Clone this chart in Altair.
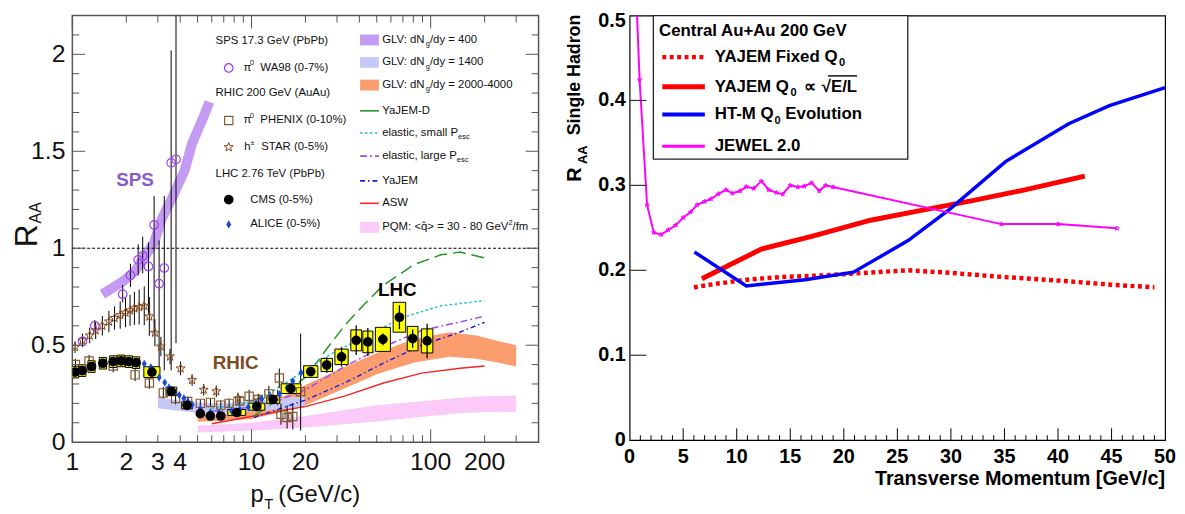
import altair as alt
import pandas as pd

FONT = "Liberation Sans"

# ======================= LEFT PANEL DATA (log pT) =======================
glv400_pt = [1.47, 1.92, 2.23, 2.58, 2.85, 3.15, 3.65, 4.23, 4.66, 5.41, 5.82]
glv400_raa = [0.763, 0.83, 0.88, 0.966, 1.025, 1.15, 1.27, 1.40, 1.54, 1.68, 1.754]

glv1400_pt = [3.0, 4.0, 5.0, 6.0, 8.0, 10.0, 14.0, 19.8]
glv1400_lo = [0.175, 0.16, 0.15, 0.148, 0.152, 0.158, 0.168, 0.178]
glv1400_hi = [0.23, 0.215, 0.205, 0.2, 0.203, 0.21, 0.225, 0.237]

glv2000_pt = [5.0, 7.0, 10.0, 15.0, 20.0, 30.0, 50.0, 80.0, 127.0, 180.0, 240.0, 300.0]
glv2000_lo = [0.105, 0.11, 0.12, 0.155, 0.19, 0.26, 0.35, 0.41, 0.44, 0.43, 0.41, 0.39]
glv2000_hi = [0.14, 0.145, 0.165, 0.235, 0.295, 0.37, 0.46, 0.53, 0.567, 0.55, 0.52, 0.50]

pqm_pt = [5.0, 10.0, 20.0, 50.0, 100.0, 150.0, 200.0, 300.0]
pqm_lo = [0.05, 0.06, 0.075, 0.107, 0.135, 0.15, 0.155, 0.157]
pqm_hi = [0.085, 0.10, 0.135, 0.19, 0.215, 0.23, 0.237, 0.24]

yajemd_pt = [10.3, 12.5, 15.0, 20.4, 26.0, 33.0, 42.5, 54.5, 80.5, 114.0, 146.0, 200.0]
yajemd_raa = [0.135, 0.186, 0.25, 0.34, 0.475, 0.60, 0.71, 0.81, 0.915, 0.966, 0.98, 0.95]

els_pt = [6.0, 8.0, 10.0, 13.0, 18.0, 28.0, 42.0, 70.0, 114.0, 200.0]
els_raa = [0.175, 0.19, 0.21, 0.26, 0.345, 0.457, 0.54, 0.644, 0.703, 0.73]

ell_pt = [6.0, 10.0, 14.0, 20.0, 33.0, 54.0, 89.0, 146.0, 200.0]
ell_raa = [0.16, 0.18, 0.215, 0.27, 0.39, 0.49, 0.576, 0.62, 0.65]

yajem_pt = [10.3, 20.4, 33.0, 54.5, 89.0, 146.0, 200.0]
yajem_raa = [0.127, 0.22, 0.305, 0.407, 0.50, 0.568, 0.618]

asw_pt = [6.0, 10.3, 20.4, 33.0, 54.5, 89.0, 146.0, 200.0]
asw_raa = [0.095, 0.135, 0.186, 0.237, 0.305, 0.356, 0.381, 0.393]

wa_pt = [1.14, 1.335, 1.91, 2.11, 2.33, 2.47, 2.66, 2.86, 3.05, 3.26, 3.56, 3.79]
wa_raa = [0.52, 0.60, 0.763, 0.86, 0.94, 0.96, 0.906, 1.12, 0.817, 0.898, 1.44, 1.458]
wa_lo = [0.49, 0.57, 0.72, 0.80, 0.86, 0.87, 0.66, 0.56, 0.32, 0.37, 0.37, 0.51]
wa_hi = [0.55, 0.63, 0.81, 0.92, 1.02, 1.06, 1.03, 1.27, 1.04, 1.27, 2.02, 2.3]

st_pt = [1.035, 1.14, 1.25, 1.35, 1.47, 1.6, 1.72, 1.85, 1.98, 2.1, 2.22, 2.36, 2.52,
         2.69, 2.89, 3.12, 3.51, 4.02, 4.66, 5.41, 6.36, 8.4, 11.0, 14.0]
st_raa = [0.49, 0.525, 0.55, 0.577, 0.60, 0.622, 0.64, 0.655, 0.668, 0.68, 0.69, 0.697, 0.703,
          0.648, 0.564, 0.493, 0.442, 0.38, 0.32, 0.27, 0.262, 0.225, 0.215, 0.23]
st_err = [0.03, 0.035, 0.04, 0.045, 0.05, 0.055, 0.06, 0.07, 0.075, 0.08, 0.085, 0.09, 0.1,
          0.1, 0.07, 0.05, 0.04, 0.035, 0.03, 0.03, 0.03, 0.03, 0.03, 0.04]

ph_pt = [1.04, 1.24, 1.69, 2.24, 2.69, 3.22, 3.77, 4.4, 5.18, 5.9, 6.74, 7.5, 8.6, 9.7,
         10.9, 12.5, 14.3, 14.6, 15.8, 17.0, 18.8]
ph_raa = [0.40, 0.418, 0.393, 0.347, 0.305, 0.254, 0.225, 0.21, 0.20, 0.205, 0.191, 0.20,
          0.212, 0.237, 0.22, 0.249, 0.331, 0.144, 0.127, 0.132, 0.26]
ph_lo = [0.37, 0.385, 0.36, 0.315, 0.275, 0.225, 0.195, 0.185, 0.18, 0.185, 0.17, 0.175,
         0.185, 0.205, 0.19, 0.21, 0.28, 0.09, 0.07, 0.065, 0.06]
ph_hi = [0.43, 0.45, 0.425, 0.38, 0.335, 0.285, 0.255, 0.235, 0.22, 0.225, 0.215, 0.225,
         0.24, 0.27, 0.25, 0.29, 0.38, 0.2, 0.19, 0.2, 0.56]

cms_pt = [1.035, 1.136, 1.28, 1.48, 1.69, 1.875, 2.07, 2.27, 2.78, 3.57, 4.37, 5.18, 5.89,
          6.74, 8.27, 10.7, 13.2, 16.6, 21.4, 26.3, 31.8, 38.4, 44.6, 54.1, 66.9, 79.3, 95.5]
cms_raa = [0.361, 0.369, 0.39, 0.407, 0.415, 0.419, 0.415, 0.41, 0.361, 0.262, 0.19, 0.147,
           0.135, 0.135, 0.153, 0.183, 0.22, 0.276, 0.364, 0.398, 0.44, 0.525, 0.517, 0.53,
           0.644, 0.534, 0.522]
cms_stat = [0.008, 0.008, 0.008, 0.008, 0.008, 0.008, 0.008, 0.008, 0.008, 0.008, 0.008,
            0.008, 0.008, 0.008, 0.01, 0.01, 0.012, 0.015, 0.015, 0.04, 0.05, 0.076, 0.072,
            0.03, 0.062, 0.047, 0.089]
cms_sys = [0.03, 0.03, 0.03, 0.03, 0.03, 0.03, 0.03, 0.03, 0.028, 0.022, 0.018, 0.01, 0.01,
           0.01, 0.015, 0.018, 0.02, 0.025, 0.03, 0.034, 0.04, 0.054, 0.056, 0.062, 0.077,
           0.063, 0.062]
cms_bin_lo = [0.988, 1.085, 1.222, 1.413, 1.614, 1.79, 1.977, 2.168, 2.507, 3.332, 4.078,
              5.004, 5.69, 6.511, 7.37, 9.65, 12.18, 14.63, 19.53, 24.43, 29.2, 35.84, 41.82,
              49.11, 61.72, 74.01, 88.71]
cms_bin_hi = [1.084, 1.19, 1.34, 1.55, 1.77, 1.963, 2.167, 2.377, 3.083, 3.825, 4.683, 5.362,
              6.097, 6.977, 9.28, 11.87, 14.31, 18.84, 23.45, 28.31, 34.63, 41.15, 47.57,
              59.6, 72.51, 84.97, 102.8]

al_pt = [2.52, 2.74, 3.05, 3.28, 3.46, 3.7, 3.95, 4.19, 4.42, 4.66, 5.18, 5.9, 6.6, 7.75,
         8.6, 9.6, 10.6, 11.4, 12.8, 14.3, 15.8, 17.0, 18.9]
al_raa = [0.404, 0.386, 0.333, 0.307, 0.282, 0.26, 0.243, 0.226, 0.21, 0.192, 0.172, 0.155,
          0.152, 0.16, 0.168, 0.18, 0.2, 0.223, 0.235, 0.248, 0.28, 0.315, 0.358]

lx_labels = [1, 2, 3, 4, 10, 20, 100, 200]
lx_text = ["1", "2", "3", "4", "10", "20", "100", "200"]
ly_labels = [0, 0.5, 1, 1.5, 2]
ly_text = ["0", "0.5", "1", "1.5", "2"]
lx_major = [1, 10, 100]
lx_minor = [2, 3, 4, 5, 6, 7, 8, 9, 20, 30, 40, 50, 60, 70, 80, 90, 200, 300]
ly_major = [0.5, 1.0, 1.5, 2.0]
ly_minor = [0.1, 0.2, 0.3, 0.4, 0.6, 0.7, 0.8, 0.9, 1.1, 1.2, 1.3, 1.4, 1.6, 1.7, 1.8, 1.9, 2.1]

# ======================= RIGHT PANEL DATA =======================
fixed_pt = [6, 8, 11, 14, 18, 22, 26, 30, 35, 40, 45, 49]
fixed_raa = [0.180, 0.184, 0.189, 0.192, 0.194, 0.197, 0.200, 0.197, 0.192, 0.188, 0.183, 0.180]
sqrt_pt = [6.75, 12.3, 17.0, 22.5, 27.0, 32.0, 37.0, 42.5]
sqrt_raa = [0.19, 0.225, 0.24, 0.259, 0.27, 0.282, 0.295, 0.311]
htm_pt = [6.05, 10.9, 16.4, 20.9, 26.0, 29.9, 35.1, 41.0, 44.8, 50.0]
htm_raa = [0.2215, 0.1817, 0.189, 0.1978, 0.235, 0.272, 0.328, 0.3726, 0.394, 0.415]
jewel_pt = [0.35, 0.93, 1.63, 2.25, 2.94, 3.6, 4.3, 5.0, 5.7, 6.3, 7.0, 7.6, 8.3, 9.0, 9.6,
            10.3, 10.9, 11.6, 12.3, 13.0, 13.7, 14.3, 15.0, 15.7, 16.3, 17.0, 17.7, 18.3,
            19.0, 34.7, 40.0, 45.5]
jewel_raa = [0.61, 0.4246, 0.277, 0.2445, 0.242, 0.2475, 0.253, 0.262, 0.2686, 0.277, 0.281,
             0.284, 0.290, 0.2946, 0.2907, 0.2934, 0.2984, 0.2965, 0.305, 0.2946, 0.2915,
             0.2896, 0.300, 0.298, 0.299, 0.303, 0.2934, 0.300, 0.298, 0.2544, 0.2544, 0.2494]

rx_labels = [0, 5, 10, 15, 20, 25, 30, 35, 40, 45, 50]
rx_text = ["0", "5", "10", "15", "20", "25", "30", "35", "40", "45", "50"]
ry_labels = [0, 0.1, 0.2, 0.3, 0.4]
ry_text = ["0", "0.1", "0.2", "0.3", "0.4"]
ry_top_label = [0.5]
ry_top_text = ["0.5"]
rx_major = [5, 10, 15, 20, 25, 30, 35, 40, 45]
rx_minor = [v for v in range(1, 50) if v % 5 != 0]
ry_major = [0.1, 0.2, 0.3, 0.4]

# ======================= STYLE / LAYOUT =======================
LW, LH = 471, 431
RW, RH = 541, 429
LX0, LY0 = 72, 12       # page position of left plot origin
RX0, RY0 = 632, 12      # page position of right plot origin

GLV400_C = "#c49bf2"
GLV1400_C = "#c6c9f6"
GLV2000_C = "#fb9d6e"
PQM_C = "#fccaf8"
YAJEMD_C = "#23952a"
ELS_C = "#1fc2c2"
ELL_C = "#9d48f2"
YAJEM_C = "#1b1be0"
ASW_C = "#f52525"
WA98_C = "#a23cf5"
PH_C = "#8c5a2c"
ST_C = "#8b4513"
ALICE_C = "#1a4cd1"

STAR_PATH = ("M0,-1L0.235,-0.324L0.951,-0.309L0.380,0.124L0.588,0.809L0,0.4L-0.588,0.809"
             "L-0.380,0.124L-0.951,-0.309L-0.235,-0.324Z")
DIAMOND_PATH = "M0,-1L0.6,0L0,1L-0.6,0Z"


def _w(pairs):
    d = {}
    for chars, w in pairs:
        for c in chars:
            d[c] = w
    return d


AR = _w([(" !,./:;[]ftI", 278), ("()-r²", 333), ("ijl", 222), ("cksvxyzJ", 500),
         ("0123456789abdeghnopquLπ", 556), ("+<=>±", 584), ("FTZ", 611),
         ("ABEKPSVXY", 667), ("CDHNRUw", 722), ("GOQ", 778), ("Mm", 833), ("%", 889),
         ("W", 944), ("\u0302", 0)])
AB = _w([(" .,/ijlI", 278), ("()-:;[]tf!", 333), ("r", 389),
         ("0123456789acekvsxyzJ", 556), ("+=<>", 584), ("bdghnopquFLTZ", 611),
         ("EKPSVXY", 667), ("ABCDHNRU", 722), ("GOQw", 778), ("M", 833), ("m%", 889),
         ("W", 944), ("∝", 713), ("√", 549)])


def tw(s, size, bold=False):
    t = AB if bold else AR
    return sum(t.get(c, 556) for c in s) * size / 1000.0


ONE = pd.DataFrame({"k": [0]})


def text_layer(x, y, s, size, bold=False, color="#000000", align="left",
               baseline="middle", angle=None):
    kw = dict(text=s, font=FONT, fontSize=size, color=color, align=align, baseline=baseline)
    if bold:
        kw["fontWeight"] = "bold"
    if angle is not None:
        kw["angle"] = angle
    return alt.Chart(ONE).mark_text(**kw).encode(x=alt.value(x), y=alt.value(y))


def rich(x, y, parts, size, bold=False, color="#000000"):
    """parts: (text, role); role 'n', 'sub', 'sup' or 'gap' (text = number of spaces)."""
    out = []
    cx = x
    for s, role in parts:
        if role == "gap":
            cx += s * 0.278 * size
            continue
        if role == "n":
            fs, dy = size, 0.0
        elif role == "sub":
            fs, dy = round(size * 0.65, 1), size * 0.38
        else:
            fs, dy = round(size * 0.65, 1), -size * 0.4
        out.append(text_layer(cx, y + dy, s, fs, bold, color))
        cx += tw(s, fs, bold)
    return out, cx


def tick_layer(vals, ch, scale, a, b, color, width=1.0):
    df = pd.DataFrame({"v": vals})
    if ch == "y":
        enc = dict(y=alt.Y("v:Q", scale=scale, axis=None), x=alt.value(a), x2=alt.value(b))
    else:
        enc = dict(x=alt.X("v:Q", scale=scale, axis=None), y=alt.value(a), y2=alt.value(b))
    return alt.Chart(df).mark_rule(color=color, strokeWidth=width).encode(**enc)


def label_layer(vals, texts, ch, scale, pos, size, bold=False, color="#111111", dy=0):
    df = pd.DataFrame({"v": vals, "t": texts})
    kw = dict(font=FONT, fontSize=size, color=color)
    if dy:
        kw["dy"] = dy
    if bold:
        kw["fontWeight"] = "bold"
    if ch == "x":
        kw.update(align="center", baseline="top")
        enc = dict(x=alt.X("v:Q", scale=scale, axis=None), y=alt.value(pos), text="t:N")
    else:
        kw.update(align="right", baseline="middle")
        enc = dict(y=alt.Y("v:Q", scale=scale, axis=None), x=alt.value(pos), text="t:N")
    return alt.Chart(df).mark_text(**kw).encode(**enc)


# ======================= LEFT PANEL =======================
LX = alt.Scale(type="log", domain=[1, 400], nice=False)
LY = alt.Scale(domain=[0, 2.2], nice=False, zero=False)


def xq(f):
    return alt.X(f + ":Q", scale=LX, axis=None)


def yq(f):
    return alt.Y(f + ":Q", scale=LY, axis=None)


def band(pt, lo, hi, color):
    df = pd.DataFrame({"pt": pt, "lo": lo, "hi": hi})
    return alt.Chart(df).mark_area(color=color, opacity=1, clip=True).encode(
        x=xq("pt"), y=yq("lo"), y2="hi:Q")


def curve(pt, raa, color, width, dash=None):
    df = pd.DataFrame({"pt": pt, "raa": raa})
    kw = dict(color=color, strokeWidth=width, clip=True)
    if dash:
        kw["strokeDash"] = dash
    return alt.Chart(df).mark_line(**kw).encode(x=xq("pt"), y=yq("raa"))


def errbars(pt, lo, hi, color="#000000", width=1.0):
    df = pd.DataFrame({"pt": pt, "lo": lo, "hi": hi})
    return alt.Chart(df).mark_rule(color=color, strokeWidth=width, clip=True).encode(
        x=xq("pt"), y=yq("lo"), y2="hi:Q")


L = []
L.append(band(pqm_pt, pqm_lo, pqm_hi, PQM_C))
L.append(band(glv2000_pt, glv2000_lo, glv2000_hi, GLV2000_C))
L.append(band(glv1400_pt, glv1400_lo, glv1400_hi, GLV1400_C))
L.append(alt.Chart(pd.DataFrame({"pt": glv400_pt, "raa": glv400_raa})).mark_line(
    color=GLV400_C, strokeWidth=10, strokeCap="butt", clip=True).encode(
    x=xq("pt"), y=yq("raa")))
L.append(curve(asw_pt, asw_raa, ASW_C, 1.4))
L.append(curve(yajem_pt, yajem_raa, YAJEM_C, 1.4, [5, 3, 1.5, 3]))
L.append(curve(ell_pt, ell_raa, ELL_C, 1.4, [7, 3, 2, 3]))
L.append(curve(els_pt, els_raa, ELS_C, 1.5, [2.5, 2.5]))
L.append(curve(yajemd_pt, yajemd_raa, YAJEMD_C, 1.5, [13, 6]))
L.append(alt.Chart(pd.DataFrame({"v": [1.0]})).mark_rule(
    color="#000000", strokeWidth=1.2, strokeDash=[3, 2]).encode(
    y=yq("v"), x=alt.value(0), x2=alt.value(LW)))

L.append(errbars(wa_pt, wa_lo, wa_hi))
L.append(errbars(st_pt, [r - e for r, e in zip(st_raa, st_err)],
                 [r + e for r, e in zip(st_raa, st_err)]))
L.append(errbars(ph_pt, ph_lo, ph_hi))

cms_df = pd.DataFrame({"pt": cms_pt, "raa": cms_raa, "blo": cms_bin_lo, "bhi": cms_bin_hi,
                       "slo": [r - s for r, s in zip(cms_raa, cms_sys)],
                       "shi": [r + s for r, s in zip(cms_raa, cms_sys)],
                       "elo": [r - s for r, s in zip(cms_raa, cms_stat)],
                       "ehi": [r + s for r, s in zip(cms_raa, cms_stat)]})
L.append(alt.Chart(cms_df).mark_rect(fill="#ffff00", stroke="#000000", strokeWidth=1,
                                     clip=True).encode(
    x=xq("blo"), x2="bhi:Q", y=yq("slo"), y2="shi:Q"))
L.append(alt.Chart(cms_df).mark_rule(color="#000000", strokeWidth=1.3, clip=True).encode(
    x=xq("pt"), y=yq("elo"), y2="ehi:Q"))

L.append(alt.Chart(pd.DataFrame({"pt": ph_pt, "raa": ph_raa})).mark_point(
    shape="square", filled=False, color=PH_C, size=70, strokeWidth=1.2, opacity=1,
    clip=True).encode(x=xq("pt"), y=yq("raa")))
L.append(alt.Chart(pd.DataFrame({"pt": st_pt, "raa": st_raa})).mark_point(
    shape=STAR_PATH, filled=False, color=ST_C, size=90, strokeWidth=1.0, opacity=1,
    clip=True).encode(x=xq("pt"), y=yq("raa")))
L.append(alt.Chart(pd.DataFrame({"pt": wa_pt, "raa": wa_raa})).mark_point(
    shape="circle", filled=False, color=WA98_C, size=75, strokeWidth=1.2, opacity=1,
    clip=True).encode(x=xq("pt"), y=yq("raa")))
L.append(alt.Chart(pd.DataFrame({"pt": al_pt, "raa": al_raa})).mark_point(
    shape=DIAMOND_PATH, filled=True, color=ALICE_C, size=70, opacity=1,
    clip=True).encode(x=xq("pt"), y=yq("raa")))
L.append(alt.Chart(cms_df).mark_circle(color="#000000", size=95, opacity=1,
                                       clip=True).encode(x=xq("pt"), y=yq("raa")))

# ticks (drawn inside the frame)
TK = "#555555"
L.append(tick_layer(ly_major, "y", LY, 0, 13, TK))
L.append(tick_layer(ly_minor, "y", LY, 0, 7, TK))
L.append(tick_layer(ly_major, "y", LY, LW - 13, LW, TK))
L.append(tick_layer(ly_minor, "y", LY, LW - 7, LW, TK))
L.append(tick_layer(lx_major, "x", LX, LH - 13, LH, TK))
L.append(tick_layer(lx_minor, "x", LX, LH - 7, LH, TK))
L.append(tick_layer(lx_major, "x", LX, 0, 13, TK))
L.append(tick_layer(lx_minor, "x", LX, 0, 7, TK))

# tick labels
L.append(label_layer(lx_labels, lx_text, "x", LX, LH + 8, 25))
L.append(label_layer(ly_labels, ly_text, "y", LY, -7, 25))


def lp(X, Y):
    return X - LX0, Y - LY0


# region labels
for (X, Y, s, c) in [(135.3, 178, "SPS", "#8a5cc9"), (237, 362.7, "RHIC", "#7d4c1f"),
                     (400.3, 289, "LHC", "#000000")]:
    x, y = lp(X, Y)
    L.append(text_layer(x, y, s, 19, bold=True, color=c, align="center"))

# legend column 1
LFS = 11.5
leg1 = [(216.7, 38, [("SPS 17.3 GeV (PbPb)", "n")]),
        (245, 65, [("π", "n"), ("0", "sup"), (2, "gap"), ("WA98 (0-7%)", "n")]),
        (216.7, 90.7, [("RHIC 200 GeV (AuAu)", "n")]),
        (245, 118, [("π", "n"), ("0", "sup"), (2, "gap"), ("PHENIX (0-10%)", "n")]),
        (245.7, 145, [("h", "n"), ("±", "sup"), (2, "gap"), ("STAR (0-5%)", "n")]),
        (216.7, 172, [("LHC 2.76 TeV (PbPb)", "n")]),
        (251.7, 198, [("CMS (0-5%)", "n")]),
        (251.7, 223, [("ALICE (0-5%)", "n")])]
for X, Y, parts in leg1:
    x, y = lp(X, Y)
    lay, _ = rich(x, y, parts, LFS, color="#111111")
    L.extend(lay)

sym = [(65, dict(shape="circle", filled=False, color=WA98_C, size=75, strokeWidth=1.2)),
       (118, dict(shape="square", filled=False, color=PH_C, size=70, strokeWidth=1.2)),
       (145, dict(shape=STAR_PATH, filled=False, color=ST_C, size=90, strokeWidth=1.0)),
       (198, dict(shape="circle", filled=True, color="#000000", size=95)),
       (223, dict(shape=DIAMOND_PATH, filled=True, color=ALICE_C, size=70))]
for Y, kw in sym:
    x, y = lp(230, Y)
    L.append(alt.Chart(ONE).mark_point(opacity=1, **kw).encode(x=alt.value(x), y=alt.value(y)))

# legend column 2
leg2 = [(36.7, [("GLV: dN", "n"), ("g", "sub"), ("/dy = 400", "n")], ("rect", GLV400_C)),
        (59.3, [("GLV: dN", "n"), ("g", "sub"), ("/dy = 1400", "n")], ("rect", GLV1400_C)),
        (82.3, [("GLV: dN", "n"), ("g", "sub"), ("/dy = 2000-4000", "n")], ("rect", GLV2000_C)),
        (108.3, [("YaJEM-D", "n")], ("line", YAJEMD_C, None)),
        (130.7, [("elastic, small P", "n"), ("esc", "sub")], ("line", ELS_C, [2.5, 2.5])),
        (154, [("elastic, large P", "n"), ("esc", "sub")], ("line", ELL_C, [7, 3, 2, 3])),
        (179, [("YaJEM", "n")], ("line", YAJEM_C, [5, 3, 1.5, 3])),
        (201.7, [("ASW", "n")], ("line", ASW_C, None)),
        (226, [("PQM: <q\u0302> = 30 - 80 GeV", "n"), ("2", "sup"), ("/fm", "n")], ("rect", PQM_C))]
for Y, parts, sw in leg2:
    x, y = lp(385, Y)
    lay, _ = rich(x, y, parts, LFS, color="#111111")
    L.extend(lay)
    x1, _ = lp(362.7, Y)
    x2, _ = lp(381.7, Y)
    if sw[0] == "rect":
        L.append(alt.Chart(ONE).mark_rect(color=sw[1], opacity=1).encode(
            x=alt.value(x1), x2=alt.value(x2), y=alt.value(y - 5.5), y2=alt.value(y + 5.5)))
    else:
        kw = dict(color=sw[1], strokeWidth=1.6)
        if sw[2]:
            kw["strokeDash"] = sw[2]
        L.append(alt.Chart(ONE).mark_rule(**kw).encode(
            x=alt.value(x1), x2=alt.value(x2), y=alt.value(y)))

# axis titles
_, ry1 = lp(0, 246)
_, ry2 = lp(0, 222)
L.append(text_layer(-46, ry1, "R", 32, color="#111111", align="left", angle=270))
L.append(text_layer(-37, ry2, "AA", 16, color="#111111", align="left", angle=270))
px, py = lp(252, 503)
L.append(text_layer(px, py, "p", 24, color="#111111", baseline="alphabetic"))
L.append(text_layer(px + 14, py + 8, "T", 15, color="#111111", baseline="alphabetic"))
L.append(text_layer(px + 28, py, "(GeV/c)", 24, color="#111111", baseline="alphabetic"))

left = alt.layer(*L).properties(
    width=LW, height=LH,
    view=alt.ViewBackground(stroke="#555555", strokeWidth=1.5, fill="white"))

# ======================= RIGHT PANEL =======================
RX = alt.Scale(domain=[0, 50], nice=False, zero=False)
RY = alt.Scale(domain=[0, 0.5], nice=False, zero=False)

R = []


def rline(pt, raa, color, width, dash=None):
    df = pd.DataFrame({"pt": pt, "raa": raa})
    kw = dict(color=color, strokeWidth=width, clip=True, strokeCap="butt")
    if dash:
        kw["strokeDash"] = dash
    return alt.Chart(df).mark_line(**kw).encode(
        x=alt.X("pt:Q", scale=RX, axis=None),
        y=alt.Y("raa:Q", scale=RY, axis=None))


R.append(rline(fixed_pt, fixed_raa, "#ff0000", 4.5, [4, 3.5]))
R.append(rline(sqrt_pt, sqrt_raa, "#ff0000", 5))
R.append(rline(htm_pt, htm_raa, "#0000ff", 3.5))
R.append(rline(jewel_pt, jewel_raa, "#ff00ff", 2))
R.append(alt.Chart(pd.DataFrame({"pt": jewel_pt[1:], "raa": jewel_raa[1:]})).mark_point(
    shape=STAR_PATH, filled=False, color="#ff00ff", size=22, strokeWidth=1, opacity=1,
    clip=True).encode(x=alt.X("pt:Q", scale=RX, axis=None),
                      y=alt.Y("raa:Q", scale=RY, axis=None)))

R.append(tick_layer(rx_major, "x", RX, RH - 12, RH, "#000000"))
R.append(tick_layer(rx_minor, "x", RX, RH - 5, RH, "#000000"))
R.append(tick_layer(ry_major, "y", RY, 0, 17, "#333333", 1.2))
R.append(label_layer(rx_labels, rx_text, "x", RX, RH + 7.5, 20, bold=True, color="#000000"))
R.append(label_layer(ry_labels, ry_text, "y", RY, -4, 20, bold=True, color="#000000"))
R.append(label_layer(ry_top_label, ry_top_text, "y", RY, -4, 20, bold=True,
                     color="#000000", dy=6))


def rp(X, Y):
    return X - RX0, Y - RY0


# legend box
bx1, by1 = rp(656, 11)
bx2, by2 = rp(913, 157)
R.append(alt.Chart(ONE).mark_rect(fill="white", stroke="#222222", strokeWidth=1.3).encode(
    x=alt.value(bx1), x2=alt.value(bx2), y=alt.value(by1 + 1), y2=alt.value(by2)))
tx, ty = rp(661.7, 28)
R.append(text_layer(tx, ty, "Central Au+Au 200 GeV", 17, bold=True))

RFS = 17
sx1, _ = rp(665, 0)
sx2, _ = rp(708, 0)
txt_x, _ = rp(718, 0)
rleg = [(54, [("YAJEM Fixed Q", "n"), ("0", "sub")], ("#ff0000", 4.5, [4, 3.5])),
        (84, [("YAJEM Q", "n"), ("0", "sub"), (1.5, "gap"), ("∝", "n"), (1.3, "gap"),
              ("√", "n"), ("E/L", "n")], ("#ff0000", 5, None)),
        (112, [("HT-M Q", "n"), ("0", "sub"), (1, "gap"), ("Evolution", "n")],
         ("#0000ff", 4, None)),
        (144, [("JEWEL 2.0", "n")], ("#ff00ff", 3, None))]
for Y, parts, (c, w, d) in rleg:
    _, y = rp(0, Y)
    lay, endx = rich(txt_x, y, parts, RFS, bold=True)
    R.extend(lay)
    kw = dict(color=c, strokeWidth=w, strokeCap="butt")
    if d:
        kw["strokeDash"] = d
    R.append(alt.Chart(ONE).mark_rule(**kw).encode(
        x=alt.value(sx1), x2=alt.value(sx2), y=alt.value(y)))
    if parts[-1][0] == "E/L":
        ol_x2 = endx
        ol_x1 = endx - tw("E/L", RFS, True) - 3
        R.append(alt.Chart(ONE).mark_rule(color="#000000", strokeWidth=1.4).encode(
            x=alt.value(ol_x1), x2=alt.value(ol_x2), y=alt.value(y - 11)))

# axis titles
_, t1 = rp(0, 180)
_, t2 = rp(0, 162)
_, t3 = rp(0, 133)
R.append(text_layer(-55, t1, "R", 20, bold=True, align="left", angle=270))
R.append(text_layer(-47, t2, "AA", 13, bold=True, align="left", angle=270))
R.append(text_layer(-55, t3, "Single Hadron", 18, bold=True, align="left", angle=270))
_, t4 = rp(0, 486)
R.append(text_layer(RW, t4, "Transverse Momentum [GeV/c]", 20, bold=True,
                    align="right", baseline="alphabetic"))

right = alt.layer(*R).properties(
    width=RW, height=RH,
    view=alt.ViewBackground(stroke="#000000", strokeWidth=1.2, fill="white"))

chart = alt.hconcat(left, right, spacing=24).properties(
    padding={"left": 2, "top": 0, "right": 0, "bottom": 0},
    background="white")

chart.save("out.html", embed_options={"renderer": "svg", "actions": False})
